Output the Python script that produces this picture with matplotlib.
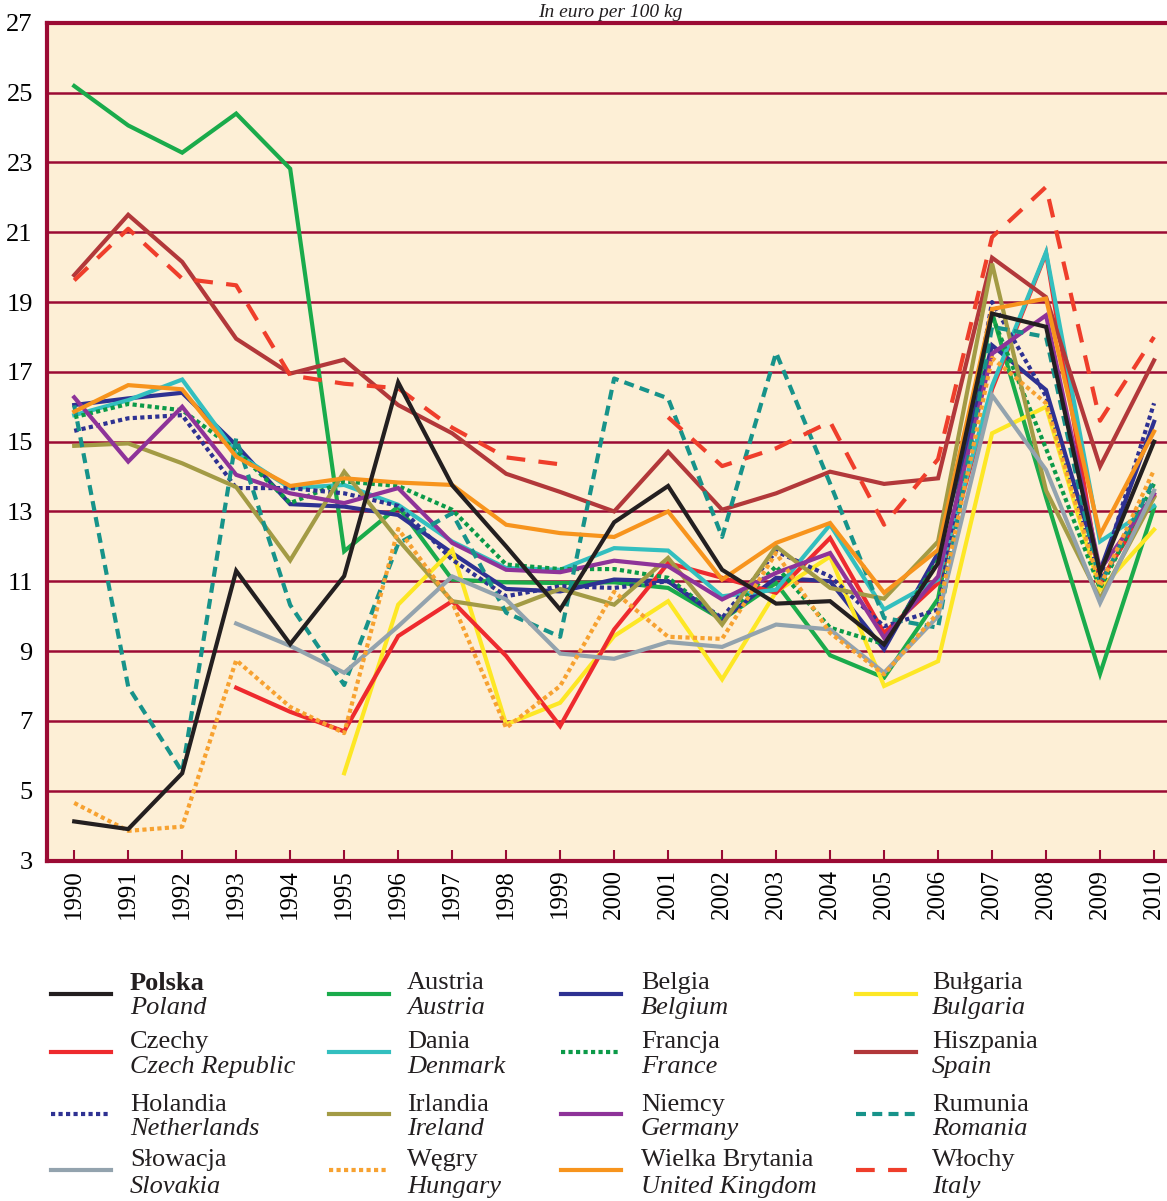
import numpy as np
import matplotlib
matplotlib.use("Agg")
import matplotlib.pyplot as plt
from matplotlib.lines import Line2D

plt.rcParams['font.family'] = ['Liberation Serif', 'DejaVu Serif']

years = list(range(1990, 2011))
nan = np.nan

# ceny w euro za 100 kg
poland      = [4.12, 3.9, 5.5, 11.3, 9.2, 11.15, 16.7, 13.75, 12.0, 10.19, 12.69, 13.73, 11.33, 10.36, 10.43, 9.19, 11.52, 18.67, 18.29, 11.24, 15.0]
austria     = [25.19, 24.06, 23.28, 24.4, 22.82, 11.86, 13.14, 11.05, 10.97, 10.95, 10.97, 10.81, 9.9, 10.95, 8.88, 8.24, 10.5, 18.7, 13.4, 8.35, 13.1]
belgium     = [16.05, 16.24, 16.4, 14.9, 13.21, 13.14, 12.9, 11.81, 10.78, 10.71, 11.05, 11.0, 9.9, 11.1, 11.0, 9.05, 11.81, 17.76, 16.48, 11.3, 15.57]
bulgaria    = [nan, nan, nan, nan, nan, 5.5, 10.33, 11.9, 6.9, 7.52, 9.43, 10.43, 8.19, 10.7, 11.71, 8.0, 8.71, 15.24, 16.0, 10.76, 12.48]
czech       = [nan, nan, nan, 7.95, 7.26, 6.7, 9.43, 10.43, 8.86, 6.85, 9.62, 11.52, 11.1, 10.67, 12.24, 9.52, 10.95, 16.5, 20.4, 11.0, 13.43]
denmark     = [15.76, 16.19, 16.78, 14.67, 13.67, 13.76, 13.19, 12.14, 11.38, 11.33, 11.95, 11.88, 10.57, 10.76, 12.62, 10.19, 11.05, 16.6, 20.43, 12.14, 13.16]
france      = [15.7, 16.08, 15.9, 14.76, 13.24, 13.86, 13.73, 13.05, 11.48, 11.35, 11.35, 11.1, 9.9, 11.43, 9.67, 9.2, 11.6, 18.6, 14.8, 10.8, 13.8]
spain       = [19.77, 21.5, 20.15, 17.95, 16.95, 17.35, 16.05, 15.24, 14.08, 13.56, 13.0, 14.71, 13.05, 13.52, 14.14, 13.79, 13.95, 20.27, 19.14, 14.29, 17.33]
netherlands = [15.31, 15.67, 15.76, 13.67, 13.67, 13.52, 13.16, 11.62, 10.57, 10.86, 10.81, 11.0, 9.95, 11.86, 11.14, 9.71, 10.19, 19.0, 16.3, 11.1, 16.1]
ireland     = [14.88, 14.95, 14.38, 13.7, 11.6, 14.14, 12.19, 10.43, 10.19, 10.78, 10.33, 11.67, 9.76, 12.0, 10.81, 10.5, 12.14, 20.1, 13.6, 10.5, 13.4]
germany     = [16.27, 14.43, 16.0, 14.05, 13.52, 13.24, 13.67, 12.1, 11.33, 11.26, 11.59, 11.43, 10.48, 11.24, 11.81, 9.38, 11.14, 17.52, 18.62, 11.33, 13.5]
romania     = [16.04, 7.98, 5.54, 15.1, 10.32, 8.03, 12.08, 12.95, 10.1, 9.41, 16.81, 16.24, 12.27, 17.55, 13.8, 9.95, 9.67, 18.29, 18.0, 10.9, 13.9]
slovakia    = [nan, nan, nan, 9.79, 9.15, 8.38, 9.71, 11.14, 10.48, 8.93, 8.78, 9.26, 9.12, 9.76, 9.62, 8.38, 10.0, 16.33, 14.19, 10.38, 13.6]
hungary     = [4.65, 3.85, 3.97, 8.74, 7.4, 6.65, 12.5, 10.4, 6.8, 8.0, 10.7, 9.41, 9.35, 11.81, 9.52, 8.33, 10.1, 17.4, 16.1, 10.86, 14.19]
uk          = [15.86, 16.62, 16.5, 14.57, 13.73, 13.95, 13.83, 13.76, 12.62, 12.38, 12.27, 13.0, 11.05, 12.1, 12.67, 10.67, 11.9, 18.8, 19.1, 12.33, 15.29]
italy       = [19.62, 21.1, 19.67, 19.48, 16.9, 16.66, 16.53, 15.4, 14.55, 14.35, nan, 15.7, 14.3, 14.81, 15.57, 12.62, 14.5, 20.86, 22.3, 15.6, 18.0]

names_pl = ['Polska', 'Austria', 'Belgia', 'Bułgaria',
            'Czechy', 'Dania', 'Francja', 'Hiszpania',
            'Holandia', 'Irlandia', 'Niemcy', 'Rumunia',
            'Słowacja', 'Węgry', 'Wielka Brytania', 'Włochy']
names_en = ['Poland', 'Austria', 'Belgium', 'Bulgaria',
            'Czech Republic', 'Denmark', 'France', 'Spain',
            'Netherlands', 'Ireland', 'Germany', 'Romania',
            'Slovakia', 'Hungary', 'United Kingdom', 'Italy']
values = [poland, austria, belgium, bulgaria,
          czech, denmark, france, spain,
          netherlands, ireland, germany, romania,
          slovakia, hungary, uk, italy]

dot = (0, (1.0, 0.8))
rom_dash = (0, (2.4, 1.5))
ita_dash = (0, (4.5, 3.2))
styles = [('#231f20', '-'), ('#1aab4b', '-'), ('#2e3192', '-'), ('#fde725', '-'),
          ('#ee2a2e', '-'), ('#33bfbf', '-'), ('#0b9a48', dot), ('#b2383a', '-'),
          ('#2e3192', dot), ('#a39b45', '-'), ('#8e3399', '-'), ('#17938a', rom_dash),
          ('#93a3ae', '-'), ('#f7a231', dot), ('#f7941d', '-'), ('#ef3e2b', ita_dash)]

grid_col = '#9b0b34'

fig = plt.figure(figsize=(11.67, 12.01), dpi=100)
ax = fig.add_axes([0.040, 0.2835, 0.96, 0.6975])
ax.set_facecolor('#fdefd6')

for i, (vals, (col, ls)) in enumerate(zip(values, styles)):
    z = 10 if i == 0 else 3
    ax.plot(years, vals, color=col, linestyle=ls, linewidth=3.0, zorder=z,
            solid_joinstyle='miter')

ax.set_xlim(1989.49, 2010.24)
ax.set_ylim(3, 27)
ax.set_yticks(range(3, 28, 2))
ax.set_xticks(years)
ax.set_xticklabels([str(y) for y in years], rotation=90, fontsize=18)
ax.tick_params(axis='x', direction='in', length=8, width=1.5, color=grid_col, pad=6)
ax.tick_params(axis='y', length=0, pad=10, labelsize=19)
ax.yaxis.grid(True, color=grid_col, linewidth=1.8, zorder=1)
ax.set_axisbelow(True)
for s in ['left', 'bottom', 'top']:
    ax.spines[s].set_color(grid_col)
    ax.spines[s].set_linewidth(3)
ax.spines['right'].set_visible(False)

fig.text(0.523, 1 - 21 / 1201, 'In euro per 100 kg', ha='center', va='bottom',
         fontsize=14, style='italic', color='#231f20')

# legenda
W, H = 1167, 1201
line_x = [51, 329, 561, 856]
text_x = [130, 407, 641, 932]
row_line = [994, 1052, 1114, 1170]
row_t1 = [983, 1042, 1105, 1160]
row_t2 = [1008, 1067, 1129, 1187]
for k in range(16):
    r, c = divmod(k, 4)
    col, ls = styles[k]
    fig.add_artist(Line2D([line_x[c] / W, (line_x[c] + 60) / W],
                          [1 - row_line[r] / H, 1 - row_line[r] / H],
                          color=col, linestyle=ls, linewidth=3.0))
    fig.text(text_x[c] / W, 1 - row_t1[r] / H, names_pl[k], fontsize=19,
             va='center', ha='left', color='#231f20',
             weight='bold' if k == 0 else 'normal')
    fig.text(text_x[c] / W, 1 - row_t2[r] / H, names_en[k], fontsize=19,
             va='center', ha='left', color='#231f20', style='italic')

fig.savefig('out.png', dpi=100)
